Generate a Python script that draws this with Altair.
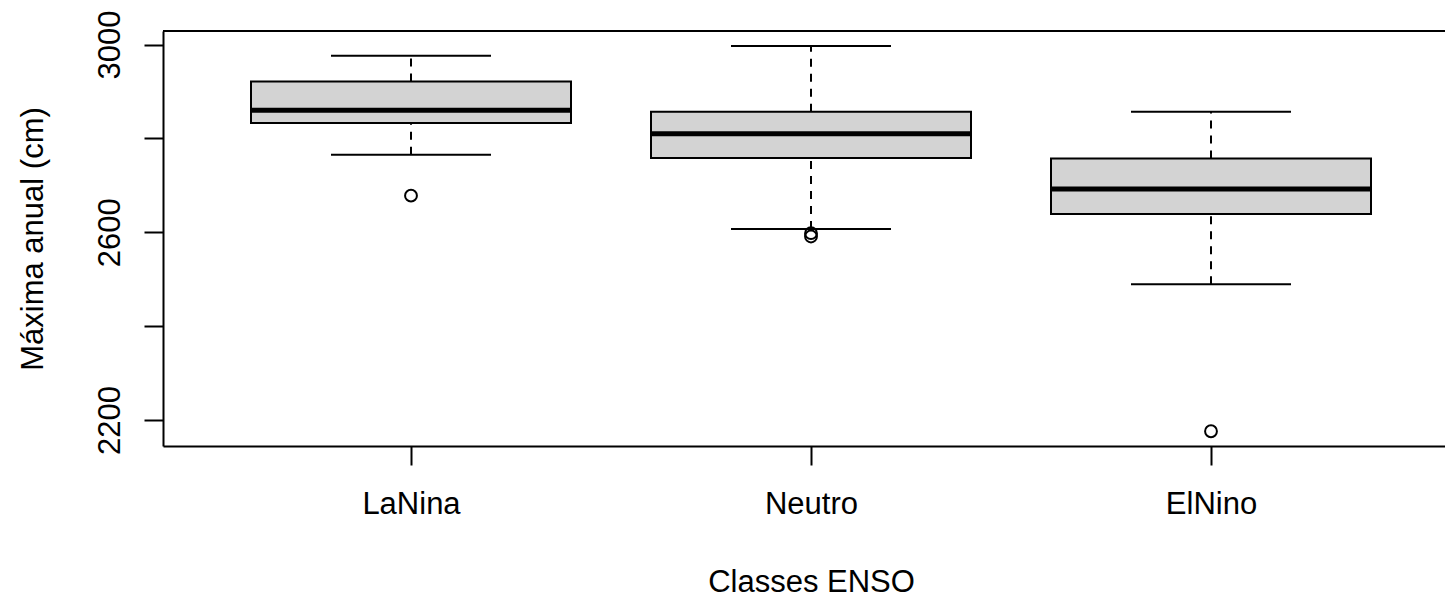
import altair as alt
import pandas as pd

categories = ["LaNina", "Neutro", "ElNino"]
positions = [1, 2, 3]
whisker_low = [2765, 2607, 2489]
q1 = [2833, 2758, 2639]
median = [2860, 2810, 2692]
q3 = [2921, 2857, 2757]
whisker_high = [2976, 2997, 2857]
outlier_cat = ["LaNina", "Neutro", "Neutro", "ElNino"]
outlier_pos = [1, 2, 2, 3]
outlier_val = [2678, 2598, 2591, 2176]

y_ticks = [2200, 2400, 2600, 2800, 3000]

FONT = "Liberation Sans"
FS = 31
W, H = 1282, 415

stats = pd.DataFrame({
    "cat": categories, "pos": positions, "wlo": whisker_low, "q1": q1,
    "med": median, "q3": q3, "whi": whisker_high,
})
outs = pd.DataFrame({"cat": outlier_cat, "pos": outlier_pos, "val": outlier_val})

xscale = alt.Scale(domain=[0.38, 0.38 + W / 400], nice=False, zero=False)
yscale = alt.Scale(domain=[2144.6, 3028.8], nice=False, zero=False)

label_expr = "datum.value == 1 ? 'LaNina' : datum.value == 2 ? 'Neutro' : datum.value == 3 ? 'ElNino' : ''"

xaxis = alt.Axis(
    values=[1, 2, 3], labelExpr=label_expr, title="Classes ENSO",
    domainColor="black", domainWidth=2, tickColor="black", tickWidth=2, tickSize=19,
    labelFont=FONT, labelFontSize=FS, labelColor="black", labelPadding=48,
    labelBaseline="alphabetic", labelFlush=False, labelOverlap=False,
    titleFont=FONT, titleFontSize=FS, titleFontWeight="normal", titleColor="black",
    titleX=648, titleY=145, titleBaseline="alphabetic", titleAlign="center",
    grid=False,
)
yaxis = alt.Axis(
    values=y_ticks, format="d",
    labelExpr="datum.value % 400 == 200 ? datum.label : ''",
    title="Máxima anual (cm)",
    domainColor="black", domainWidth=2, tickColor="black", tickWidth=2, tickSize=19,
    labelFont=FONT, labelFontSize=FS, labelColor="black", labelAngle=-90,
    labelAlign="center", labelBaseline="alphabetic", labelPadding=25,
    labelFlush=False, labelOverlap=False,
    titleFont=FONT, titleFontSize=FS, titleFontWeight="normal", titleColor="black",
    titleAngle=270, titleX=-121, titleY=H / 2, titleBaseline="alphabetic", titleAlign="center",
    grid=False,
)

base = alt.Chart(stats).transform_calculate(
    left="datum.pos - 0.4", right="datum.pos + 0.4",
    capl="datum.pos - 0.2", capr="datum.pos + 0.2",
)

axes_layer = alt.Chart(stats).mark_point(opacity=0).encode(
    x=alt.X("pos:Q", scale=xscale, axis=xaxis),
    y=alt.Y("med:Q", scale=yscale, axis=yaxis),
)

whisk_up = base.mark_rule(color="black", strokeWidth=2, strokeDash=[8, 7]).encode(
    x=alt.X("pos:Q", scale=xscale), y=alt.Y("q3:Q", scale=yscale), y2="whi:Q"
)
whisk_dn = base.mark_rule(color="black", strokeWidth=2, strokeDash=[8, 7]).encode(
    x=alt.X("pos:Q", scale=xscale), y=alt.Y("wlo:Q", scale=yscale), y2="q1:Q"
)
cap_hi = base.mark_rule(color="black", strokeWidth=2).encode(
    x=alt.X("capl:Q", scale=xscale), x2="capr:Q", y=alt.Y("whi:Q", scale=yscale)
)
cap_lo = base.mark_rule(color="black", strokeWidth=2).encode(
    x=alt.X("capl:Q", scale=xscale), x2="capr:Q", y=alt.Y("wlo:Q", scale=yscale)
)
box = base.mark_rect(fill="#D3D3D3", stroke="black", strokeWidth=2).encode(
    x=alt.X("left:Q", scale=xscale), x2="right:Q",
    y=alt.Y("q1:Q", scale=yscale), y2="q3:Q",
)
med = base.mark_rule(color="black", strokeWidth=5).encode(
    x=alt.X("left:Q", scale=xscale), x2="right:Q", y=alt.Y("med:Q", scale=yscale)
)
pts = alt.Chart(outs).mark_point(
    shape="circle", filled=False, color="black", size=140, strokeWidth=2, opacity=1
).encode(
    x=alt.X("pos:Q", scale=xscale), y=alt.Y("val:Q", scale=yscale)
)
top = alt.Chart(stats).mark_rule(color="black", strokeWidth=2).encode(
    x=alt.value(0), x2=alt.value(W + 5), y=alt.value(0)
)

chart = alt.layer(
    axes_layer, whisk_up, whisk_dn, cap_hi, cap_lo, box, med, pts, top
).properties(
    width=W, height=H,
    autosize=alt.AutoSizeParams(type="none"),
    padding={"left": 163, "top": 31, "right": 0, "bottom": 150},
    background="white",
).configure_view(stroke=None)

chart.save("out.html", embed_options={"renderer": "svg", "actions": False})
